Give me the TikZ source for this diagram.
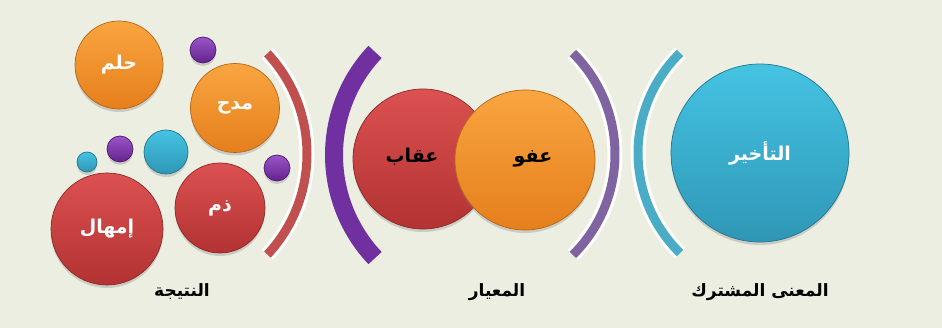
\documentclass[tikz,border=0pt]{standalone}
\usepackage{fontspec}
\usetikzlibrary{shadows}
\TeXXeTstate=1
\newfontfamily\arabicfont[Script=Arabic]{DejaVu Sans}
\newcommand{\artext}[1]{\arabicfont\bfseries\beginR #1\endR}
\definecolor{bg}{HTML}{EBEEE1}
\definecolor{orT}{HTML}{F9A540}
\definecolor{orB}{HTML}{E57F1C}
\definecolor{orE}{HTML}{B8651A}
\definecolor{rdT}{HTML}{DC5151}
\definecolor{rdB}{HTML}{B33232}
\definecolor{rdE}{HTML}{8E2828}
\definecolor{cyT}{HTML}{45C3E3}
\definecolor{cyB}{HTML}{2F97B6}
\definecolor{cyE}{HTML}{23758E}
\definecolor{puT}{HTML}{9A55C8}
\definecolor{puB}{HTML}{64228F}
\definecolor{puE}{HTML}{4E1A70}
\definecolor{arcRed}{HTML}{C0504D}
\definecolor{arcPurple}{HTML}{7030A0}
\definecolor{arcLilac}{HTML}{8064A2}
\definecolor{arcCyan}{HTML}{4BACC6}
\tikzset{
  bub/.style={circle, inner sep=0pt, line width=0.7pt,
    drop shadow={opacity=0.3, shadow xshift=0pt, shadow yshift=-3pt}},
  orb/.style={bub, draw=orE, top color=orT, bottom color=orB},
  redb/.style={bub, draw=rdE, top color=rdT, bottom color=rdB},
  cyb/.style={bub, draw=cyE, top color=cyT, bottom color=cyB},
  pub/.style={bub, draw=puE, top color=puT, bottom color=puB},
  wtxt/.style={text=white, font=\fontsize{19}{22}\selectfont},
  btxt/.style={text=black, font=\fontsize{19}{22}\selectfont},
  lbl/.style={text=black, font=\fontsize{17}{20}\selectfont},
  halo/.style={draw=white, line width=15pt},
}
\begin{document}
\begin{tikzpicture}[x=1pt, y=-1pt]
\useasboundingbox (0,0) rectangle (942,328);
\fill[bg] (0,0) rectangle (942,328);

% ---------- left panel ----------
\draw[halo] ([shift={(-43:147.5)}]159.5,154) arc[start angle=-43, end angle=43, radius=147.5];
\draw[arcRed, line width=9pt] ([shift={(-43:147.5)}]159.5,154) arc[start angle=-43, end angle=43, radius=147.5];

\node[orb, minimum size=88pt, wtxt] (hilm) at (119,65) {\artext{حلم}};
\node[orb, minimum size=89pt, wtxt] (madh) at (235,108) {\artext{مدح}};
\node[pub, minimum size=26pt] (p1) at (203,50) {};
\node[pub, minimum size=26pt] (p2) at (120,149) {};
\node[pub, minimum size=26pt] (p3) at (277,168) {};
\node[cyb, minimum size=44pt] (c1) at (166,152) {};
\node[cyb, minimum size=20pt] (c2) at (87,162) {};
\node[redb, minimum size=90pt, wtxt] (dhamm) at (220,208) {\artext{ذم}};
\node[redb, minimum size=112pt, wtxt] (imhal) at (107,229) {\artext{إمهال}};
\node[lbl] (natija) at (182,292) {\artext{النتيجة}};

% ---------- middle panel ----------
\draw[arcPurple, line width=18pt] ([shift={(136.6:150)}]484,155) arc[start angle=136.6, end angle=223.4, radius=150];
\draw[halo] ([shift={(-45.3:142)}]473,154) arc[start angle=-45.3, end angle=45.3, radius=142];
\draw[arcLilac, line width=9pt] ([shift={(-45.3:142)}]473,154) arc[start angle=-45.3, end angle=45.3, radius=142];

\node[redb, minimum size=140pt] (iqab) at (423,159) {};
\node[orb, minimum size=140pt] (afw) at (525,160) {};
\node[btxt] (iqabt) at (412,157) {\artext{عقاب}};
\node[btxt] (afwt) at (533,159) {\artext{عفو}};
\node[lbl] (miyar) at (497,292) {\artext{المعيار}};

% ---------- right panel ----------
\draw[halo] ([shift={(134.4:140)}]778,153) arc[start angle=134.4, end angle=225.6, radius=140];
\draw[arcCyan, line width=9pt] ([shift={(134.4:140)}]778,153) arc[start angle=134.4, end angle=225.6, radius=140];

\node[cyb, minimum size=178pt, wtxt] (takhir) at (760,153) {\artext{التأخير}};
\node[lbl] (mana) at (760,292) {\artext{المعنى المشترك}};
\end{tikzpicture}
\end{document}
